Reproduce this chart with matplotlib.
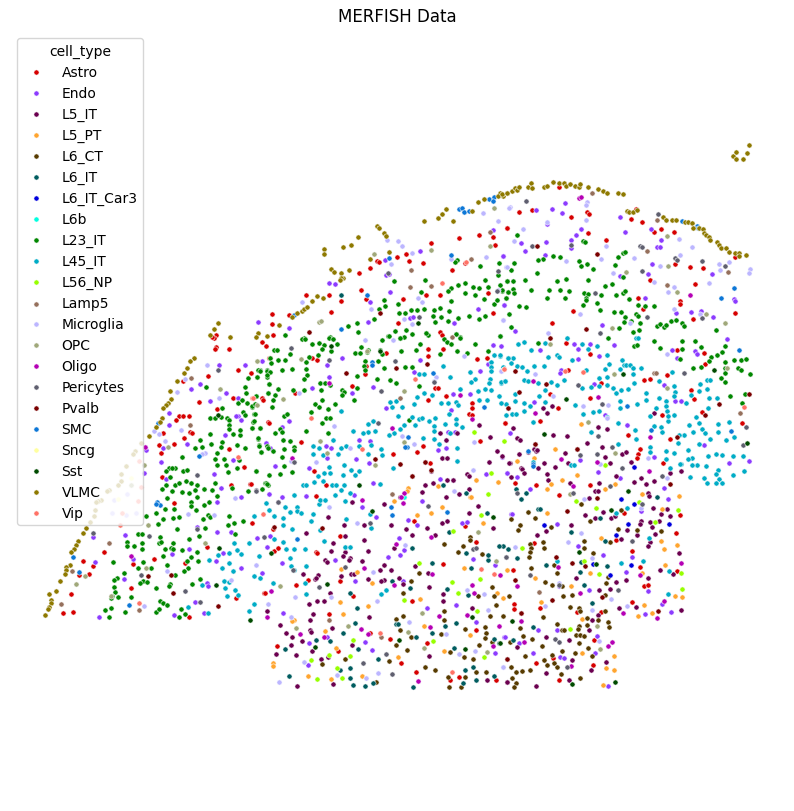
import matplotlib
matplotlib.use("Agg")
import matplotlib.pyplot as plt

ASTRO = [(559,188),(519,213),(532,211),(507,229),(571,218),(587,213),(589,215),(588,234),(606,241),(631,220),(642,223),(636,210),(654,233),(661,230),(674,233),(675,265),(690,268),(703,269),(735,258),(650,281),(695,285),(638,299),
(573,312),(552,324),(643,310),(680,302),(680,305),(693,320),(735,314),(566,344),(590,355),(677,351),(704,354),(705,365),(568,371),(601,384),(644,381),(650,380),(667,376),(691,391),(694,400),(550,395),(590,399),(558,409),(540,422),(505,424),(662,416),(702,413),(742,424),(628,436),(670,440),(640,450),(638,455),(637,459),(663,464),
(515,484),(536,486),(559,496),(590,486),(624,514),(680,516),(616,541),(676,534),(632,552),(640,568),(677,572),(644,587),(648,586),(632,603),(513,571),(534,544),(540,609),(514,605),(514,610),(577,613),(601,613),(594,641),(593,666),(553,659),(536,664),(559,681),(521,614),
(273,530),(274,552),(278,549),(316,553),(317,554),(340,537),(296,586),(308,581),(340,582),(264,594),(265,594),(353,597),(414,522),(443,565),(412,602),(476,543),(465,527),(329,615),(277,647),(338,652),(370,634),(390,640),(427,644),(401,664),(416,673),(450,681),(459,678),(476,631),(496,681),
(174,504),(252,524),(104,553),(83,562),(93,567),(89,575),(79,576),(71,595),(63,614),(73,613),(154,560),(133,565),(185,564),(207,548),(131,589),(189,618),(236,599),
(216,336),(214,339),(212,338),(216,348),(215,350),(229,350),(238,371),(251,374),(208,377),(183,382),(233,399),(262,343),(266,347),(199,403),(217,410),(179,417),(183,417),(189,417),(176,421),(190,433),(192,434),(184,439),(163,434),(174,445),(159,446),(161,454),(229,450),(244,468),(162,478),(231,486),(250,485),(262,399),(263,401),(268,423),(269,359),
(272,315),(272,325),(289,316),(273,336),(306,296),(329,296),(331,313),(341,302),(361,291),(359,274),(370,269),(377,262),(379,263),(397,258),(406,255),(409,262),(423,264),(431,244),(459,239),(452,271),(465,264),(479,236),(493,238),(495,246),(507,229),(366,300),(403,300),(426,296),(440,296),(488,294),(493,314),(398,324),(440,333),(442,336),
(270,359),(317,361),(312,359),(269,424),(295,394),(386,354),(366,367),(365,375),(352,387),(428,350),(428,357),(443,350),(477,360),(487,359),(435,389),(438,389),(446,397),(428,401),(472,404),(472,409),(469,415),(472,416),(505,424),(301,443),(480,442),(423,447),(393,455),(417,453),(430,464),(314,472),(326,486),(316,497),(251,485)]

ENDO = [(536,211),(552,210),(565,204),(562,214),(547,225),(546,243),(525,252),(521,244),(503,257),(545,256),(581,230),(576,236),(571,241),(571,249),(620,218),(625,233),(651,230),(661,241),(657,248),(660,248),(652,265),(648,275),(620,277),(712,275),(734,300),(645,299),
(504,306),(515,332),(602,326),(574,345),(578,350),(590,345),(614,346),(599,357),(578,360),(540,351),(691,313),(701,312),(713,318),(672,351),(677,359),(695,352),(697,355),(664,386),(594,385),(561,371),(560,374),(534,403),(676,314),(627,426),(675,402),(681,402),(704,446),(727,340),(735,302),(749,462),(729,464),(654,458),(580,461),(605,416),(510,434),(502,458),
(511,515),(557,525),(530,490),(507,474),(517,478),(598,473),(620,479),(668,500),(578,547),(603,556),(632,558),(626,573),(648,592),(589,591),(559,587),(671,613),(645,615),(662,605),(504,638),(519,644),(538,631),(557,631),(533,654),(560,658),(564,659),(595,654),(597,637),(608,687),(641,512),(664,489),
(362,508),(376,518),(422,502),(408,521),(417,526),(399,539),(404,551),(400,556),(388,558),(267,548),(282,564),(270,537),(262,574),(335,561),(355,582),(403,582),(283,614),(327,638),(309,644),(365,643),(372,651),(308,666),(427,609),(456,606),(462,524),(467,523),(512,515),(473,560),(495,566),(476,623),(495,654),(505,638),
(93,538),(125,536),(95,563),(124,580),(99,618),(174,616),(195,603),(204,614),(217,503),(197,528),(217,533),(231,533),(257,539),(189,550),(172,555),(216,562),(207,584),(208,587),(241,569),(223,554),(133,560),
(258,323),(219,366),(245,366),(262,362),(200,385),(191,390),(226,394),(238,399),(210,402),(169,414),(169,426),(238,417),(236,417),(241,421),(225,436),(187,445),(163,449),(161,463),(233,461),(266,444),(214,475),(166,480),(221,489),(241,498),(270,449),(145,448),(146,451),(144,474),
(289,329),(329,284),(335,285),(368,323),(370,303),(385,261),(420,252),(386,276),(389,275),(390,293),(410,319),(413,318),(493,231),(503,257),(478,310),(454,324),(504,306),
(282,428),(289,422),(342,359),(327,366),(329,378),(312,389),(352,394),(373,388),(420,361),(414,373),(488,365),(493,346),(501,347),(480,372),(453,395),(470,395),(451,411),(386,409),(266,444),(359,441),(370,442),(326,447),(331,449),(327,459),(356,460),(369,464),(275,467),(309,469),(373,484),(354,496),(306,497),(269,495),(282,498),(446,449),(448,433),(438,451),(455,433),(486,475),(507,474),(440,480),(453,481)]

L5_IT = [(508,409),(543,409),(552,407),(547,414),(513,429),(517,439),(520,441),(553,436),(567,437),(587,444),(598,428),(607,430),(602,448),(577,450),(535,445),(534,450),(536,452),(537,451),(519,455),(510,464),(528,453),(544,464),(555,468),(565,454),(568,464),(521,469),(538,469),(605,458),(610,464),(622,455),(626,453),(631,463),(654,414),
(511,478),(522,470),(524,474),(547,475),(548,481),(570,484),(599,484),(595,492),(598,492),(589,499),(616,477),(634,483),(641,479),(646,485),(654,482),(670,474),(681,472),(648,494),(649,497),(653,509),(667,510),(670,517),(661,515),(659,522),(650,523),(641,522),(640,525),(652,528),(655,535),(627,531),(637,536),(621,540),(650,543),(648,547),(611,519),(603,513),(595,519),(585,516),(615,517),(546,532),(571,526),(537,536),(679,554),(660,571),(673,575),(648,579),(626,581),(576,579),(616,583),(610,590),(599,591),(619,609),(636,608),(681,611),(598,616),(589,631),(592,621),(546,638),(569,641),(517,648),(572,661),(606,663),(591,671),(546,674),(569,681),(507,683),(536,687),
(278,503),(328,518),(352,503),(384,505),(344,526),(364,526),(391,526),(345,537),(306,534),(333,544),(345,553),(343,557),(331,552),(364,541),(368,552),(325,561),(327,563),(350,559),(349,561),(362,562),(303,575),(318,576),(315,580),(316,579),(341,577),(380,571),(384,566),(391,571),(351,575),(354,575),(368,580),(384,581),(381,582),(399,579),(403,585),(330,594),(309,605),(317,602),(324,602),(313,615),(267,612),(310,621),(369,618),(280,626),(286,634),(292,638),(310,631),(311,633),(302,642),(332,629),(291,646),(276,655),(296,656),(312,652),(321,660),(328,658),(352,646),(297,687),(333,685),(406,530),(412,536),(394,549),(427,529),(442,524),(447,522),(435,536),(469,514),(478,507),(493,529),(415,567),(428,574),(429,588),(443,595),(443,602),(472,609),(429,657),(507,660),(487,681),(507,683),
(440,434),(457,434),(446,441),(490,438),(479,426),(497,452),(502,457),(489,463),(509,464),(442,459),(447,459),(425,463),(431,472),(467,475),(469,477),(412,477),(425,486),(433,484),(447,481),(453,481),(422,493),(446,498),(459,495),(469,490),(400,498),(404,498)]

L5_PT = [(581,425),(555,450),(534,459),(517,462),(577,476),(562,481),(551,485),(547,490),(605,490),(615,485),(642,495),(679,497),(662,510),(547,514),(601,539),(661,542),(664,550),(677,546),(665,566),(642,574),(507,571),(535,579),(571,587),(590,574),(675,597),(682,598),(644,606),(638,617),(652,614),(541,603),(503,599),(582,620),(582,654),(614,657),(606,669),(614,671),(603,686),
(394,502),(442,508),(431,514),(417,516),(483,524),(464,569),(357,573),(341,570),(372,584),(420,600),(340,603),(368,607),(343,615),(294,621),(292,622),(325,632),(424,627),(470,636),(398,658),(336,649),(444,652),(273,664),(273,667),(308,677),(331,680),(362,677),(497,594),
(476,481),(498,483),(408,489),(407,492),(438,487),(470,498),(471,498)]

L6_CT = [(528,513),(511,520),(535,519),(520,526),(518,531),(551,528),(581,505),(621,511),(590,522),(618,530),(637,531),(661,532),(610,543),(584,542),(543,543),(544,549),(584,549),(593,554),(530,545),(531,549),(530,553),(529,558),(531,569),(554,566),(557,574),(545,583),(552,586),(562,587),(563,597),(572,596),(608,578),(606,584),(605,596),(509,597),(570,608),(579,609),(580,612),(605,612),(503,617),(543,618),(587,619),(598,621),(608,623),(609,628),(587,626),(579,627),(557,625),(520,629),(562,631),(564,631),(578,630),(576,636),(580,636),(584,637),(523,637),(532,640),(510,643),(579,644),(542,647),(588,649),(562,652),(575,654),(552,656),(592,657),(525,657),(544,661),(547,666),(554,664),(557,668),(511,668),(516,673),(522,672),(530,671),(561,675),(580,679),(512,679),(516,684),(514,688),
(419,574),(411,582),(403,594),(444,545),(470,538),(470,541),(463,547),(458,553),(482,555),(444,612),(444,621),(396,620),(403,617),(400,631),(411,638),(396,646),(407,651),(389,662),(345,660),(322,665),(376,683),(425,668),(435,671),(450,653),(464,658),(448,678),(465,678),(449,688),(461,688),(473,660),(476,673),(486,673),(492,588),(494,597),(478,597),(496,606),(490,617),(465,630),(485,628),(486,634),(485,639),(492,643),(479,646),(441,635)]

L6_IT = [(516,490),(526,494),(521,500),(538,510),(540,510),(571,533),(605,542),(600,519),(503,547),(508,550),(517,559),(546,566),(581,563),(607,567),(580,573),(584,586),(592,604),(533,628),(513,641),(657,498),(341,296),
(357,609),(355,624),(350,594),(343,634),(330,642),(316,641),(285,650),(358,650),(378,660),(350,669),(340,671),(289,677),(350,679),(353,686),(365,687),(373,684),(413,688),(463,684),(476,681),(494,677),(473,668),(465,671),(454,649),(416,638),(432,634),(396,625),(398,625),(445,627),(456,624),(471,569),(468,596),(447,590),(466,554),(488,561),(488,556),(449,533),(432,564),(410,589),(392,582),(412,549),(499,547),(487,514),(494,640),(499,644),(466,494),(443,486)]

L6_IT_CAR3 = [(634,468),(621,500),(634,505),(544,526),(628,525),(669,525),(616,536),(593,565),(631,566),(610,576)]

L6B = [(404,498)]

L23_IT = [(517,236),(583,242),(585,243),(553,257),(560,258),(543,260),(538,261),(514,264),(511,271),(537,274),(507,282),(513,282),(525,281),(502,292),(508,293),(513,290),(514,294),(531,291),(549,291),(557,282),(566,280),(560,291),(569,292),(588,281),(579,262),(581,267),(587,265),(593,270),(618,258),(623,254),(625,253),(615,266),(623,278),(612,285),(605,287),(584,294),(588,295),(601,296),(616,296),(623,294),(625,292),(506,299),(547,299),(565,299),(586,299),(629,300),
(519,307),(526,308),(509,315),(511,328),(500,337),(583,306),(586,301),(597,304),(600,311),(614,313),(621,313),(625,318),(636,315),(638,317),(624,323),(631,322),(640,324),(619,329),(633,333),(639,331),(638,306),(645,307),(654,307),(657,327),(660,325),(664,328),(666,326),(671,322),(676,321),(682,324),(684,327),(716,331),(608,339),(654,342),(660,349),(634,347),(637,346),(682,342),(682,350),(695,342),(701,348),(725,347),(722,353),(717,356),(711,358),(709,362),(725,363),(734,361),(741,361),(746,360),(680,360),(693,369),(701,368),(738,369),(741,371),(750,375),(725,369),(725,374),(721,379),(725,383),(730,397),(745,395),(742,404),(538,344),
(146,517),(156,514),(158,525),(163,520),(173,519),(179,518),(177,530),(165,510),(174,510),(191,503),(191,507),(196,511),(204,506),(209,503),(203,520),(208,516),(210,518),(229,517),(234,524),(228,526),(243,522),(205,529),(199,537),(189,540),(235,535),(138,535),(142,535),(127,543),(127,547),(134,547),(142,544),(142,550),(160,538),(159,544),(161,543),(173,544),(165,550),(171,549),(173,550),(182,551),(197,553),(163,557),(191,558),(187,562),(198,562),(113,563),(143,563),(138,569),(151,569),(167,566),(188,569),(184,572),(124,574),(175,576),(117,579),(114,581),(143,582),(140,584),(147,583),(170,585),(169,587),(156,589),(192,585),(200,580),(114,588),(115,593),(112,597),(111,599),(118,598),(131,598),(160,602),(163,604),(167,606),(105,611),(111,609),(109,618),(125,613),(156,613),(159,610),(181,610),(179,618),(185,615),
(206,388),(245,388),(246,394),(238,404),(242,401),(247,404),(252,408),(248,379),(257,378),(260,371),(267,371),(267,378),(269,385),(268,394),(256,397),(222,409),(243,413),(245,416),(254,415),(253,423),(221,418),(210,419),(215,419),(227,419),(229,421),(229,426),(229,430),(252,429),(260,429),(233,435),(240,436),(240,431),(210,435),(211,445),(200,441),(195,449),(202,448),(222,443),(221,448),(237,446),(245,449),(258,440),(259,446),(261,453),(217,454),(215,460),(224,460),(239,461),(217,466),(226,466),(237,469),(182,458),(228,473),(256,472),(169,469),(166,472),(175,469),(172,469),(183,472),(187,471),(170,478),(166,486),(175,486),(179,484),(186,482),(191,484),(197,486),(162,490),(172,492),(182,493),(189,494),(195,491),(204,490),(212,491),(215,484),(232,489),(248,492),(265,484),(268,486),(167,499),(197,498),(217,497),
(285,336),(348,327),(357,324),(358,333),(374,320),(379,310),(385,307),(384,301),(398,305),(399,314),(405,314),(411,311),(417,311),(424,310),(421,293),(394,282),(425,281),(434,311),(433,317),(440,309),(449,312),(441,318),(435,323),(448,322),(458,319),(469,317),(479,320),(485,317),(494,305),(497,301),(484,300),(506,299),(508,293),(502,291),(500,286),(507,282),(488,288),(485,281),(479,289),(473,288),(475,296),(465,284),(465,294),(458,286),(451,289),(448,292),(451,302),(480,267),(499,264),(498,276),(457,261),(455,263),(395,332),(406,331),(388,337),(412,335),(426,334),(456,335),(500,337),(460,338),(428,336),(400,339),(404,338),(330,338),(304,339),
(302,340),(305,340),(312,345),(319,344),(324,346),(329,339),(333,340),(337,345),(331,352),(322,350),(318,356),(290,355),(274,351),(277,351),(270,359),(278,361),(285,361),(271,364),(282,371),(292,370),(306,363),(309,358),(306,370),(307,376),(304,380),(267,372),(258,371),(260,372),(270,373),(267,376),(257,378),(269,385),(278,390),(268,394),(293,391),(304,391),(320,384),(325,384),(321,391),(330,386),(342,391),(344,393),(342,396),(357,389),(354,401),(322,401),(315,405),(319,408),(328,410),(335,405),(311,413),(272,408),(275,396),(273,401),(256,397),(252,407),(255,405),(255,415),(254,422),(252,429),(260,429),(284,417),(287,415),(326,419),(330,419),(322,424),(280,430),(282,433),(275,434),(306,432),(328,434),(258,439),(283,441),(290,442),(259,447),(267,447),(268,449),(261,453),(273,452),(284,450),(294,448),(294,451),(282,458),(284,467),(292,473),(256,472),(269,476),(280,475),(266,484),(267,485),(262,490),
(382,341),(389,337),(400,339),(401,352),(368,351),(361,348),(355,354),(360,354),(367,353),(380,351),(382,355),(378,362),(365,362),(364,367),(365,371),(384,369),(405,368),(412,368),(357,377),(377,380),(390,381),(396,384),(419,387),(420,345),(416,351),(426,334),(440,355),(444,340),(447,343),(451,345),(456,335),(460,339),(457,352),(467,354),(475,345),(488,352),(500,337),(409,421)]

L45_IT = [(518,345),(524,343),(531,351),(545,344),(567,339),(582,345),(597,347),(588,350),(636,339),(638,339),(508,359),(513,359),(511,364),(517,367),(522,368),(527,372),(534,367),(544,367),(548,358),(557,356),(559,358),(572,361),(607,356),(609,365),(605,370),(622,361),(620,370),(624,366),(626,366),(630,366),(633,369),(641,369),(633,375),(599,379),(607,378),(586,371),(500,357),(505,382),(501,384),(524,381),(528,382),(538,384),(551,383),(557,386),(564,381),(515,395),(515,402),(524,404),(530,407),(539,397),(545,391),(545,403),(506,405),(506,416),(512,415),(516,415),(524,412),(533,423),(575,406),(583,415),(593,413),(599,412),(582,389),(591,388),(599,387),(607,386),(613,389),(621,391),(628,390),(616,394),(634,384),(646,394),(646,401),(637,405),(620,402),(620,409),(607,418),(618,424),(659,399),(666,402),(666,407),(667,412),(675,393),(674,397),(656,409),(650,417),(659,382),(672,373),(674,387),(686,404),(691,396),(700,385),(707,381),(710,381),(699,392),(707,390),(709,399),(717,399),(708,409),(668,422),(674,416),(668,417),(696,418),(689,426),(699,424),(702,430),(718,425),(729,423),(693,433),(734,438),(705,434),(710,440),(718,433),(726,441),(654,427),(661,428),(662,433),(684,436),(679,436),(678,444),(699,445),(688,451),(666,452),(674,454),(650,448),(650,453),(618,445),(635,431),(636,440),(591,433),(716,455),(708,457),(722,456),(733,457),(743,457),(692,459),(688,460),(697,466),(681,465),(666,460),(533,463),
(616,514),(627,509),(649,539),(557,562),(621,564),(643,562),(669,572),(668,595),(680,465),(692,466),(706,467),(718,471),(716,475),(719,480),(722,484),(716,484),(707,484),(704,479),(690,478),(744,472),(733,476),(670,469),(571,466),(574,466),
(266,504),(269,511),(274,517),(283,519),(283,526),(285,508),(290,513),(297,508),(297,512),(301,514),(313,515),(311,522),(319,505),(320,501),(325,501),(345,502),(346,520),(320,531),(292,530),(274,540),(283,543),(324,542),(286,550),(294,550),(305,550),(290,559),(291,567),(294,571),(306,567),(260,579),(345,548),(350,548),(370,515),(371,529),(305,584),(273,584),(306,595),(386,591),(381,595),
(209,561),(218,556),(229,554),(229,564),(222,569),(233,572),(254,517),(234,544),(249,544),(237,551),(241,555),(259,557),(254,577),(224,582),(229,583),(202,586),(225,589),(235,591),(238,596),(227,597),(254,605),(249,612),(188,608),(208,614),
(500,356),(494,356),(491,363),(491,368),(491,372),(470,373),(475,380),(471,383),(490,380),(489,384),(501,383),(505,382),(508,359),(503,368),(485,390),(478,392),(491,391),(460,390),(499,397),(479,401),(487,401),(501,404),(443,367),(450,378),(419,375),(424,375),(417,398),(424,394),(432,396),(414,405),(441,404),(456,403),(458,406),(448,404),(390,403),(396,402),(392,408),(402,408),(398,417),(412,418),(419,420),(422,419),(415,426),(429,422),(435,419),(434,427),(449,415),(456,420),(456,425),(462,428),(445,425),(450,434),(404,426),(400,430),(394,434),(389,436),(375,432),(373,422),(368,425),(368,433),(363,434),(353,432),(341,412),(423,439),(434,432),(434,440),(439,445),(457,449),(457,462),(381,450),(371,446),(359,447),(333,441),(313,447),(319,449),(313,455),(323,456),(338,455),(341,449),(346,447),(368,455),(382,456),(344,466),(351,471),(359,472),(355,476),(343,476),(329,468),(324,474),(330,474),(318,477),(314,483),(323,482),(332,486),(336,486),(344,486),(341,491),(303,486),(306,486),(294,496),(335,496),(350,494),(393,469),(380,485)]

L56_NP = [(504,442),(605,466),(522,549),(576,502),(596,509),(639,503),(678,511),(655,523),(584,562),(599,575),(681,574),(682,590),(570,630),
(419,564),(452,583),(458,594),(404,601),(480,580),(481,516),(453,532),(477,612),(433,642),(353,641),(350,657),(337,669),(342,679),(317,680),(311,661),(329,656),(484,658),(474,433),(491,474),(488,495)]

LAMP5 = [(592,194),(657,221),(647,252),(728,273),(667,286),(654,374),(656,374),(740,414),(539,593),(329,621),(381,638),
(109,544),(72,572),(61,605),(139,611),(191,379),(190,426),(411,271),(410,288),(431,287),(471,260),(490,233),(452,338),(400,399),(392,495)]

MICROGLIA = [(510,208),(587,203),(586,206),(586,221),(547,223),(523,230),(514,242),(606,247),(601,260),(634,259),(566,262),(506,268),(613,274),(679,240),(692,248),(680,256),(660,267),(719,265),(720,271),(729,263),(750,270),(749,274),(654,283),(674,288),(668,293),(709,284),
(580,315),(674,310),(700,315),(503,321),(548,334),(630,324),(667,355),(501,372),(535,375),(553,397),(608,406),(583,407),(648,459),(600,465),(607,419),
(515,548),(581,534),(568,543),(592,559),(559,584),(611,600),(545,607),(627,607),(592,611),(599,642),(503,668),(584,500),(667,479),(641,509),
(329,508),(357,524),(295,598),(268,605),(373,573),(377,602),(331,598),(291,618),(304,663),(279,683),(337,676),(366,679),(378,674),(405,546),(409,623),(446,635),(459,655),(475,652),(467,591),(484,595),(488,611),(503,668),
(188,515),(214,516),(167,572),(144,607),(256,566),(231,581),(114,501),(127,495),(112,514),(126,516),(136,514),
(207,366),(185,380),(177,393),(219,399),(181,431),(154,432),(159,435),(165,442),(205,454),(202,455),(235,499),
(302,303),(387,241),(398,242),(402,247),(412,254),(391,265),(418,299),(422,303),(371,310),(404,320),(412,325),(451,260),(486,258),(483,214),(498,222),(507,268),(509,209),(498,291),(503,321),
(365,341),(393,341),(464,357),(436,378),(434,382),(501,372),(299,394),(334,427),(402,437),(414,445),(350,449),(316,463),(291,462),(474,443),(473,471),(454,492)]

OPC = [(667,237),(668,267),(626,273),(677,293),(706,315),(725,324),(612,329),(550,345),(614,375),(727,369),(667,389),(588,423),(615,454),(570,495),(597,627),(600,650),
(280,587),(478,533),(496,562),(422,614),(408,633),(348,627),(296,629),(424,649),(487,653),
(76,585),(85,577),(146,569),(111,597),(148,526),(205,544),(144,466),(131,486),(220,390),(257,362),(257,406),(168,448),
(319,323),(321,322),(374,255),(431,251),(494,209),(490,247),(301,360),(283,400),(404,392),(320,442),(375,466),(327,454),(367,352),(404,443)]

OLIGO = [(579,199),(581,198),(690,296),(533,382),(535,414),(598,398),(650,438),(561,460),(597,463),(573,487),(517,587),(558,568),(640,576),(681,564),(580,594),(623,614),(657,619),(664,602),(649,472),(521,622),(524,643),(608,647),(612,643),(571,667),
(362,501),(403,504),(271,592),(267,618),(300,635),(324,638),(361,630),(368,635),(396,545),(431,538),(394,586),(364,569),(432,575),(439,617),(430,628),(418,682),(467,616),(474,594),(472,586),(500,576),(499,627),(493,647),
(131,557),(145,448),(329,384),(392,429),(460,396),(472,420),(292,459),(404,494),(401,498)]

PERICYTES = [(526,202),(532,247),(571,246),(640,247),(642,248),(658,215),(675,259),(677,261),(702,262),(725,267),(642,272),(595,294),
(600,334),(647,318),(702,319),(578,386),(684,374),(602,405),(598,437),(746,428),(743,446),(612,448),(597,455),(580,456),(622,469),
(506,558),(530,576),(559,586),(618,591),(632,542),(517,494),(573,494),(642,505),(555,640),(559,643),(567,668),(610,487),(662,477),
(264,538),(293,571),(319,588),(345,568),(428,507),(370,524),(386,655),(363,664),(392,675),(473,550),(476,549),(506,558),
(93,534),(149,537),(141,576),(185,592),(200,603),(197,530),(278,503),(218,371),(197,476),(256,491),
(388,274),(419,318),(498,272),(497,292),(291,349),(329,361),(395,362),(381,392),(378,424),(434,383),(294,463),(256,492)]

PVALB = [(537,247),(597,255),(515,372),(519,393),(550,339),(586,330),(546,385),(719,405),(705,416),(749,395),(535,445),(577,450),(677,438),
(567,512),(515,581),(556,558),(572,564),(585,567),(552,601),(602,598),(658,612),(670,485),(597,499),(507,660),(521,614),
(274,528),(322,529),(148,577),(171,576),(173,594),(218,607),(309,333),(380,314),(346,374),(396,369),(427,365),(375,460),(400,465),(425,463),(508,409),(431,471),(412,477)]

SMC = [(682,222),(697,227),(698,229),(734,289),(721,299),(739,351),(627,407),(731,432),(651,431),(528,452),(533,465),(533,467),
(297,540),(392,516),(391,508),(447,513),(157,503),(160,506),(156,505),(73,558),(79,573),(129,606),(158,424),(199,457),
(294,316),(341,330),(367,296),(389,259),(451,256),(459,210),(462,209),(464,213),(469,212),(489,200),(494,198),(493,202),(372,363),(372,366),(433,374),(484,408),(408,438),(407,448),(405,448)]

SNCG = [(131,479),(118,500)]

SST = [(714,371),(623,375),(566,400),(544,435),(747,444),(628,492),(611,511),(579,553),(596,565),(512,622),(500,644),(615,683),(572,685),
(271,554),(327,585),(372,512),(493,518),(472,618),(315,648),(399,641),(465,650),(219,549),(216,586),(250,621),(218,416),(418,324),(331,347),(380,352),(359,486)]

VLMC = [(500,194),(503,197),(507,194),(512,192),(515,189),(517,191),(519,188),(528,188),(531,184),(532,189),(544,188),(547,187),(553,183),(559,184),(564,184),(566,187),(570,185),(575,187),(579,188),(580,185),(588,188),(598,190),(603,192),(607,194),(618,194),(623,195),(627,212),(629,213),(633,213),(637,211),(663,218),(666,221),(672,221),(676,221),(685,223),(688,223),(692,224),(693,229),(699,229),(703,230),(704,234),(706,236),(709,238),(710,241),(717,243),(719,246),(721,249),(726,249),(729,253),(735,254),(739,254),(739,257),(746,256),(733,157),(736,153),(736,160),(743,160),(747,154),(749,146),
(86,529),(83,534),(78,542),(76,546),(74,550),(71,553),(70,566),(66,568),(66,571),(65,575),(60,582),(56,592),(49,595),(51,601),(51,604),(49,608),(48,610),(45,616),
(141,444),(135,452),(133,455),(126,467),(121,475),(121,482),(118,486),(109,491),(107,492),(101,501),(98,502),(96,503),(95,511),(94,517),(90,523),
(218,324),(214,330),(210,336),(230,338),(194,359),(190,362),(187,369),(184,374),(177,382),(170,392),(171,400),(168,404),(166,406),(163,409),(162,419),(160,423),(156,428),(149,437),(258,334),(256,338),(267,337),
(279,326),(292,318),(297,314),(302,312),(304,310),(307,308),(312,302),(317,297),(323,299),(331,270),(334,273),(341,274),(343,279),(341,279),(340,281),(349,271),(324,250),(324,255),(343,248),(351,246),(358,238),(377,227),(379,229),(384,234),(386,237),(389,253),(370,260),(424,222),(438,219),(442,215),(446,210),(453,222),(472,212),(478,203),(484,200),(498,197),(502,195),(507,194)]

VIP = [(504,370),(565,372),(583,373),(744,408),(263,515),(380,634),(494,575),(481,570),(452,673),(120,526),(139,604),
(139,462),(141,488),(138,502),(122,514),(252,399),(238,458),(442,284),(466,263),(311,419),(415,380),(362,450),(504,370),(253,399)]

CELL_TYPES = ["Astro","Endo","L5_IT","L5_PT","L6_CT","L6_IT","L6_IT_Car3","L6b","L23_IT","L45_IT","L56_NP",
              "Lamp5","Microglia","OPC","Oligo","Pericytes","Pvalb","SMC","Sncg","Sst","VLMC","Vip"]
SERIES = [ASTRO,ENDO,L5_IT,L5_PT,L6_CT,L6_IT,L6_IT_CAR3,L6B,L23_IT,L45_IT,L56_NP,
          LAMP5,MICROGLIA,OPC,OLIGO,PERICYTES,PVALB,SMC,SNCG,SST,VLMC,VIP]
COLORS = ["#d60000","#8c3bff","#6b004f","#ffa52f","#573b00","#005c5f","#0000dd","#00ffe0","#018700","#00acc6","#97ff00",
          "#95705c","#bcb6ff","#a0a87a","#b500b5","#5f5f6f","#7a0000","#0d77d7","#ffffa0","#004b00","#8e7900","#ff7266"]

fig = plt.figure(figsize=(7.94, 8.12), dpi=100)
ax = fig.add_axes([0, 0, 1, (812 - 30) / 812])
for name, pts, col in zip(CELL_TYPES, SERIES, COLORS):
    xs = [p[0] for p in pts]
    ys = [p[1] for p in pts]
    ax.scatter(xs, ys, s=14, c=col, edgecolors="white", linewidths=0.4, label=name)
ax.set_xlim(0, 794)
ax.set_ylim(812, 30)
ax.set_axis_off()
ax.set_title("MERFISH Data", fontsize=12, pad=6)
ax.title.set_visible(True)
ax.legend(title="cell_type", loc="upper left", bbox_to_anchor=(17, 39),
          bbox_transform=ax.transData, borderaxespad=0, fontsize=10)
fig.savefig("out.png", dpi=100)
